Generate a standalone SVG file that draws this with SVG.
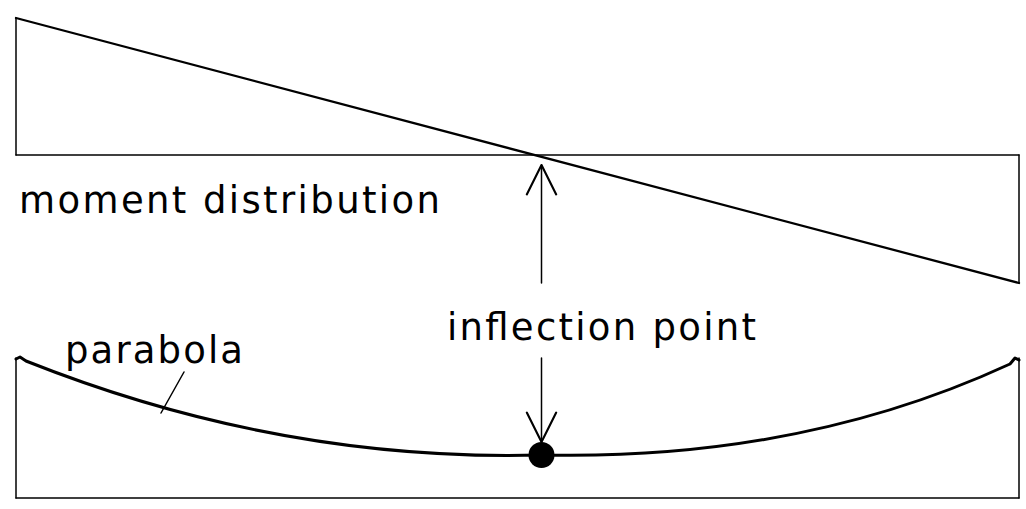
<svg xmlns="http://www.w3.org/2000/svg" width="1026" height="509" viewBox="0 0 1026 509">
  <style>
    .ln { fill: none; stroke: #000; stroke-linecap: round; stroke-linejoin: round; }
    .thin { stroke-width: 1.5; }
    .med { stroke-width: 2.3; }
    .thick { stroke-width: 3; }
    .lbl { font-family: "DejaVu Sans", "Liberation Sans", sans-serif; font-size: 37px; fill: #000; }
  </style>
  <defs>
    <marker id="openV" markerUnits="userSpaceOnUse" markerWidth="40" markerHeight="40" viewBox="-30 -16 34 32" refX="0" refY="0" orient="auto">
      <path d="M -25 -12.5 L 0 0 L -25 12.5" fill="none" stroke="#000" stroke-width="1.8" stroke-linecap="round" stroke-linejoin="round"/>
    </marker>
  </defs>
  <rect width="1026" height="509" fill="#fff"/>

  <g id="moment-diagram">
    <line class="ln thin" x1="16" y1="155" x2="1019" y2="155"/>
    <line class="ln thin" x1="16" y1="155" x2="16" y2="18"/>
    <line class="ln med" x1="16" y1="18" x2="1019" y2="283"/>
    <line class="ln thin" x1="1019" y1="155" x2="1019" y2="283"/>
  </g>

  <g id="deflection-diagram">
    <line class="ln thin" x1="16" y1="358" x2="16" y2="498"/>
    <line class="ln thin" x1="16" y1="498" x2="1019" y2="498"/>
    <line class="ln thin" x1="1019" y1="358" x2="1019" y2="498"/>
    <path class="ln thick" d="M 16 359 L 20 357 L 26 361 Q 280 462 541 455 Q 800 461 1010 364 L 1015 358 L 1019 360"/>
  </g>

  <g id="inflection-dot">
    <circle cx="541.5" cy="455" r="13" fill="#000"/>
  </g>

  <g id="label-moment">
    <text class="lbl" x="19" y="213" textLength="421" lengthAdjust="spacing">moment distribution</text>
  </g>
  <g id="label-inflection">
    <text class="lbl" x="447" y="340" textLength="309" lengthAdjust="spacing">inflection point</text>
  </g>
  <g id="label-parabola">
    <text class="lbl" x="65" y="363" textLength="178" lengthAdjust="spacing">parabola</text>
  </g>

  <g id="connectors">
    <line class="ln thin" x1="541.5" y1="283" x2="541.5" y2="165" marker-end="url(#openV)"/>
    <line class="ln thin" x1="541.5" y1="358" x2="541.5" y2="442" marker-end="url(#openV)"/>
    <line class="ln thin" x1="184" y1="372" x2="161" y2="413"/>
  </g>
</svg>
